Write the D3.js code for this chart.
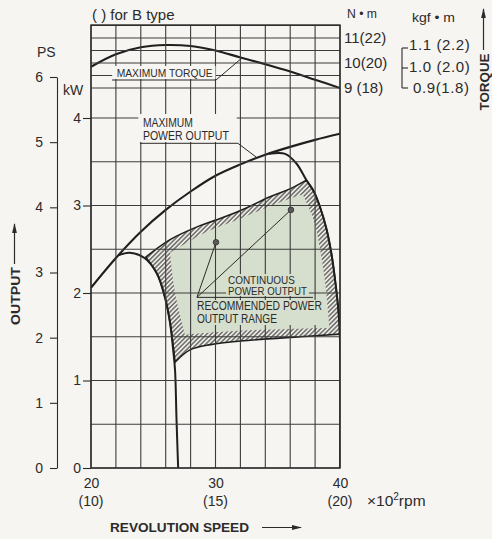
<!DOCTYPE html>
<html>
<head>
<meta charset="utf-8">
<script src="https://cdn.jsdelivr.net/npm/d3@7"></script>
<style>
  body { margin: 0; background: #f7f5f1; }
  svg { display: block; font-family: "Liberation Sans", Arial, sans-serif; }
</style>
</head>
<body>
<div id="chart"></div>
<script>
// revolution speed in x100 rpm, output in kW, torque in N.m
var speedTicks = [20, 30, 40];
var speedSub = ["(10)", "(15)", "(20)"];
var kwTicks = [0, 1, 2, 3, 4];
var psTicks = [0, 1, 2, 3, 4, 5, 6];
var torqueTicks = [11, 10, 9];
var torqueLabels = ["11(22)", "10(20)", "9 (18)"];
var kgfTicks = [1.1, 1.0, 0.9];
var kgfLabels = ["1.1 (2.2)", "1.0 (2.0)", "0.9(1.8)"];

var torqueSpeed = [20, 22, 24, 26, 28, 30, 32, 34, 36, 38, 40];
var torqueMax   = [9.85, 10.35, 10.63, 10.72, 10.68, 10.50, 10.22, 9.95, 9.66, 9.33, 9.0];

var powerSpeed = [20, 22, 24, 26, 28, 30, 32, 34, 36, 38, 40];
var powerMax   = [2.06, 2.40, 2.70, 2.95, 3.16, 3.34, 3.47, 3.58, 3.67, 3.75, 3.82];

// left limit (hump) and right limit curves
var leftLimitSpeed = [22.2, 23.1, 24.3, 25.3, 25.94, 26.35, 26.6, 26.75, 26.87, 27.0];
var leftLimitPower = [2.43, 2.46, 2.40, 2.22, 1.95, 1.66, 1.35, 1.12, 0.55, 0];
var rightLimitSpeed = [34.3, 35.6, 36.5, 37.3, 37.9, 38.4, 38.9, 39.3, 39.65, 39.88, 40, 40];
var rightLimitPower = [3.59, 3.59, 3.48, 3.29, 3.16, 2.98, 2.74, 2.46, 2.1, 1.79, 1.46, 0];

// recommended power output range (hatched outline)
var rangeTopSpeed = [24.4, 26.35, 28.76, 29.96, 31.97, 34.38, 35.98, 37.3];
var rangeTopPower = [2.41, 2.61, 2.77, 2.83, 2.94, 3.10, 3.19, 3.29];
var rangeRightSpeed = [37.3, 37.9, 38.4, 38.9, 39.3, 39.65, 39.88, 40];
var rangeRightPower = [3.29, 3.16, 2.98, 2.74, 2.46, 2.1, 1.79, 1.53];
var rangeBottomSpeed = [40, 36.8, 32.8, 29.6, 27.95, 26.75];
var rangeBottomPower = [1.53, 1.50, 1.46, 1.41, 1.35, 1.21];
var rangeLeftSpeed = [26.75, 26.6, 26.35, 25.94, 25.3, 24.4];
var rangeLeftPower = [1.21, 1.40, 1.66, 1.95, 2.22, 2.41];

// continuous power output (green area)
var contTopSpeed = [26.35, 29.29, 31.97, 34.64, 37.0];
var contTopPower = [2.46, 2.70, 2.85, 3.01, 3.13];
var contRightSpeed = [37.0, 37.9, 38.45, 38.85, 39.15];
var contRightPower = [3.13, 2.83, 2.46, 2.07, 1.6];
var contBottomSpeed = [39.15, 35.98, 31.97, 28.76, 27.55];
var contBottomPower = [1.6, 1.59, 1.57, 1.54, 1.52];
var contLeftSpeed = [27.55, 27.15, 26.75, 26.51, 26.35];
var contLeftPower = [1.52, 1.75, 2.0, 2.24, 2.46];

// rated points marked on the chart
var markSpeed = [30.04, 36.06];
var markPower = [2.58, 2.95];

var W = 492, H = 539;
var plotTop = 25;
var ink = "#2b2b2b";
var paper = "#f7f5f1";
var green = "#d6dfcd";
var narrow = "'Liberation Sans Narrow','Liberation Sans',Arial,sans-serif";

var svg = d3.select("#chart").append("svg").attr("width", W).attr("height", H);

var x = d3.scaleLinear().domain([20, 40]).range([91, 340]);
var yK = d3.scaleLinear().domain([0, 4]).range([468, 118]);
var yT = d3.scaleLinear().domain([9, 11]).range([88, 38]);
var yPS = d3.scaleLinear().domain([0, 6]).range([468, 77]);
var yKgf = d3.scaleLinear().domain([0.9, 1.1]).range([88, 48]);

var defs = svg.append("defs");
var pat = defs.append("pattern").attr("id", "hatch")
  .attr("patternUnits", "userSpaceOnUse")
  .attr("width", 3.2).attr("height", 3.2)
  .attr("patternTransform", "rotate(45)");
pat.append("rect").attr("width", 3.2).attr("height", 3.2).attr("fill", "#ecebe4");
pat.append("line").attr("x1", 1.6).attr("x2", 1.6).attr("y1", 0).attr("y2", 3.2)
  .attr("stroke", "#3f3f3f").attr("stroke-width", 1.1);

defs.append("clipPath").attr("id", "plotClip").append("rect")
  .attr("x", x(20)).attr("y", plotTop).attr("width", x(40) - x(20)).attr("height", yK(0) - plotTop);

defs.append("marker").attr("id", "arrow")
  .attr("markerUnits", "userSpaceOnUse")
  .attr("markerWidth", 10).attr("markerHeight", 6)
  .attr("viewBox", "0 -3 10 6").attr("refX", 9).attr("refY", 0)
  .attr("orient", "auto")
  .append("path").attr("d", "M0,-2.4L10,0L0,2.4Z").attr("fill", ink);

var pts = function (a, b) { return d3.zip(a, b); };
var kwLine = d3.line().x(function (d) { return x(d[0]); }).y(function (d) { return yK(d[1]); })
  .curve(d3.curveCatmullRom.alpha(0.5));
var tqLine = d3.line().x(function (d) { return x(d[0]); }).y(function (d) { return yT(d[1]); })
  .curve(d3.curveCatmullRom.alpha(0.5));

function outline(parts) {
  return parts.map(function (p, i) {
    var s = kwLine(p);
    return i ? s.replace(/^M/, "L") : s;
  }).join("") + "Z";
}

var plot = svg.append("g").attr("clip-path", "url(#plotClip)");

// hatched recommended range, then green continuous area
var rangePath = outline([
  pts(rangeTopSpeed, rangeTopPower), pts(rangeRightSpeed, rangeRightPower),
  pts(rangeBottomSpeed, rangeBottomPower), pts(rangeLeftSpeed, rangeLeftPower)]);
plot.append("path").attr("d", rangePath).attr("fill", "url(#hatch)");

plot.append("path").attr("d", outline([
  pts(contTopSpeed, contTopPower), pts(contRightSpeed, contRightPower),
  pts(contBottomSpeed, contBottomPower), pts(contLeftSpeed, contLeftPower)]))
  .attr("fill", green);

// grid
var grid = svg.append("g").attr("stroke", "#3c3c3c").attr("stroke-width", 1.1);
grid.selectAll(".v").data(d3.range(20, 41, 2)).join("line")
  .attr("x1", function (d) { return x(d); }).attr("x2", function (d) { return x(d); })
  .attr("y1", plotTop).attr("y2", yK(0));
grid.selectAll(".h").data(d3.range(0, 4.01, 0.5)).join("line")
  .attr("x1", x(20)).attr("x2", x(40))
  .attr("y1", function (d) { return yK(d); }).attr("y2", function (d) { return yK(d); });
grid.selectAll(".t").data([9, 9.5, 10, 10.5, 11, 11.5]).join("line")
  .attr("x1", x(20)).attr("x2", x(40))
  .attr("y1", function (d) { return yT(d); }).attr("y2", function (d) { return yT(d); });
svg.append("rect").attr("x", x(20)).attr("y", plotTop)
  .attr("width", x(40) - x(20)).attr("height", yK(0) - plotTop)
  .attr("fill", "none").attr("stroke", ink).attr("stroke-width", 1.4);

// curves
var curves = plot.append("g").attr("fill", "none").attr("stroke", "#1f1f1f").attr("stroke-linejoin", "round");
curves.append("path").attr("d", tqLine(pts(torqueSpeed, torqueMax))).attr("stroke-width", 2.1);
curves.append("path").attr("d", kwLine(pts(powerSpeed, powerMax))).attr("stroke-width", 2.1);
curves.append("path").attr("d", kwLine(pts(leftLimitSpeed, leftLimitPower))).attr("stroke-width", 2);
curves.append("path").attr("d", kwLine(pts(rightLimitSpeed, rightLimitPower))).attr("stroke-width", 2);
curves.append("path").attr("d", rangePath).attr("stroke-width", 1.6);

// annotation helper
function txt(g, s, px, py, size, len, opts) {
  var t = g.append("text").attr("x", px).attr("y", py).attr("font-size", size)
    .attr("fill", ink).text(s);
  if (len) t.attr("textLength", len).attr("lengthAdjust", "spacingAndGlyphs");
  if (opts && opts.family) t.attr("font-family", opts.family);
  if (opts && opts.weight) t.attr("font-weight", opts.weight);
  if (opts && opts.anchor) t.attr("text-anchor", opts.anchor);
  return t;
}
var ann = svg.append("g");

// MAXIMUM TORQUE
ann.append("rect").attr("x", x(21.7)).attr("y", 66).attr("width", x(30.0) - x(21.7)).attr("height", 13).attr("fill", paper);
txt(ann, "MAXIMUM TORQUE", x(22.06), 77, 11.5, 96, { family: narrow });
ann.append("path").attr("fill", "none").attr("stroke", ink).attr("stroke-width", 1)
  .attr("d", "M" + x(21.69) + "," + yT(9.32) + "H" + x(30.04) + "L" + x(32.1) + "," + yT(10.19));

// MAXIMUM POWER OUTPUT
ann.append("rect").attr("x", x(23.8)).attr("y", 114).attr("width", x(31.7) - x(23.8)).attr("height", 28).attr("fill", paper);
txt(ann, "MAXIMUM", x(24.17), 127, 12, 50, { family: narrow });
txt(ann, "POWER OUTPUT", x(24.17), 140, 12, 86, { family: narrow });
ann.append("path").attr("fill", "none").attr("stroke", ink).attr("stroke-width", 1)
  .attr("d", "M" + x(23.93) + "," + 143.3 + "H" + x(31.8) + "L" + x(33.3) + "," + yK(3.55));

// continuous / recommended labels
ann.append("rect").attr("x", x(30.85)).attr("y", 274).attr("width", x(37.5) - x(30.85)).attr("height", 22).attr("fill", green);
ann.append("rect").attr("x", x(28.4)).attr("y", 300).attr("width", x(38.5) - x(28.4)).attr("height", 25).attr("fill", green);
txt(ann, "CONTINUOUS", x(31.0), 284, 11.5, 67, { family: narrow });
txt(ann, "POWER OUTPUT", x(31.0), 294.8, 11.5, 79, { family: narrow });
txt(ann, "RECOMMENDED POWER", x(28.51), 310, 12, 125, { family: narrow });
txt(ann, "OUTPUT RANGE", x(28.51), 322.5, 12, 80, { family: narrow });

var hub = [x(28.51), yK(1.95)];
var lead = ann.append("g").attr("stroke", ink).attr("stroke-width", 1).attr("fill", "none");
lead.append("path").attr("d", "M" + hub[0] + "," + hub[1] + "H" + x(37.83));
lead.selectAll(".lead").data(pts(markSpeed, markPower)).join("line")
  .attr("x1", hub[0]).attr("y1", hub[1])
  .attr("x2", function (d) { return x(d[0]); }).attr("y2", function (d) { return yK(d[1]); });
ann.selectAll(".dot").data(pts(markSpeed, markPower)).join("circle")
  .attr("cx", function (d) { return x(d[0]); }).attr("cy", function (d) { return yK(d[1]); })
  .attr("r", 2.8).attr("fill", "#5a5a5a").attr("stroke", ink).attr("stroke-width", 0.8);

// axes
function styleAxis(g, size) {
  g.attr("font-family", null).attr("font-size", size);
  g.selectAll("line").attr("stroke", ink).attr("stroke-width", 1.1);
  g.selectAll("path").attr("stroke", ink).attr("stroke-width", 1.1);
  g.selectAll("text").attr("fill", ink);
}
svg.append("g").attr("transform", "translate(" + x(20) + ",0)")
  .call(d3.axisLeft(yK).tickValues(kwTicks).tickSize(8).tickPadding(2).tickFormat(d3.format("d")))
  .call(function (g) { g.select(".domain").remove(); styleAxis(g, 14); });

svg.append("g").attr("transform", "translate(57,0)")
  .call(d3.axisLeft(yPS).tickValues(psTicks).tickSize(7).tickSizeOuter(0).tickPadding(7).tickFormat(d3.format("d")))
  .call(function (g) { styleAxis(g, 14); });

svg.append("g").attr("transform", "translate(0," + yK(0) + ")")
  .call(d3.axisBottom(x).tickValues(speedTicks).tickSize(0).tickPadding(10).tickFormat(d3.format("d")))
  .call(function (g) { g.select(".domain").remove(); styleAxis(g, 14); });
svg.append("g").selectAll("text").data(speedTicks).join("text")
  .attr("x", function (d) { return x(d); }).attr("y", 506)
  .attr("text-anchor", "middle").attr("font-size", 14).attr("fill", ink)
  .text(function (d, i) { return speedSub[i]; });

var rpm = svg.append("text").attr("x", 367).attr("y", 506).attr("font-size", 15.5).attr("fill", ink);
rpm.append("tspan").text("\u00d710");
rpm.append("tspan").attr("dy", -6).attr("font-size", 10).text("2");
rpm.append("tspan").attr("dy", 6).text("rpm");

// torque scales on the right
svg.append("g").selectAll("text").data(torqueTicks).join("text")
  .attr("x", 344).attr("y", function (d) { return yT(d) + 5; })
  .attr("font-size", 15).attr("fill", ink)
  .text(function (d, i) { return torqueLabels[i]; });
txt(svg, "N \u2022 m", 347, 18, 13, 30);
txt(svg, "kgf \u2022 m", 412, 22, 13, 43);

var br = svg.append("g").attr("stroke", ink).attr("stroke-width", 1.1).attr("fill", "none");
br.append("line").attr("x1", 402).attr("x2", 402).attr("y1", yKgf(1.1)).attr("y2", yKgf(0.9));
br.selectAll("line.tk").data(kgfTicks).join("line")
  .attr("x1", 402).attr("x2", 408)
  .attr("y1", function (d) { return yKgf(d); }).attr("y2", function (d) { return yKgf(d); });
svg.append("g").selectAll("text").data(kgfTicks).join("text")
  .attr("x", function (d, i) { return i === 2 ? 413 : 409; })
  .attr("y", function (d, i) { return yKgf(d) + [1.5, 3.5, 5][i]; })
  .attr("font-size", 15).attr("letter-spacing", 0.6).attr("fill", ink)
  .text(function (d, i) { return kgfLabels[i]; });

// titles
txt(svg, "( ) for B type", 92, 20, 15);
txt(svg, "PS", 37, 57, 14);
txt(svg, "kW", 63, 95, 14);

txt(svg, "OUTPUT", 0, 0, 13, 58, { weight: "bold", anchor: "middle" })
  .attr("transform", "translate(19.5,296) rotate(-90)");
svg.append("line").attr("x1", 14.5).attr("x2", 14.5).attr("y1", 264).attr("y2", 224)
  .attr("stroke", ink).attr("stroke-width", 1.2).attr("marker-end", "url(#arrow)");

txt(svg, "TORQUE", 0, 0, 12.5, 57, { weight: "bold", anchor: "middle" })
  .attr("transform", "translate(488.5,82) rotate(-90)");
svg.append("line").attr("x1", 483.5).attr("x2", 483.5).attr("y1", 50).attr("y2", 9)
  .attr("stroke", ink).attr("stroke-width", 1.2).attr("marker-end", "url(#arrow)");

txt(svg, "REVOLUTION SPEED", 110, 532, 13, 139, { weight: "bold" });
svg.append("line").attr("x1", 262).attr("x2", 301).attr("y1", 527.5).attr("y2", 527.5)
  .attr("stroke", ink).attr("stroke-width", 1.2).attr("marker-end", "url(#arrow)");
</script>
</body>
</html>
